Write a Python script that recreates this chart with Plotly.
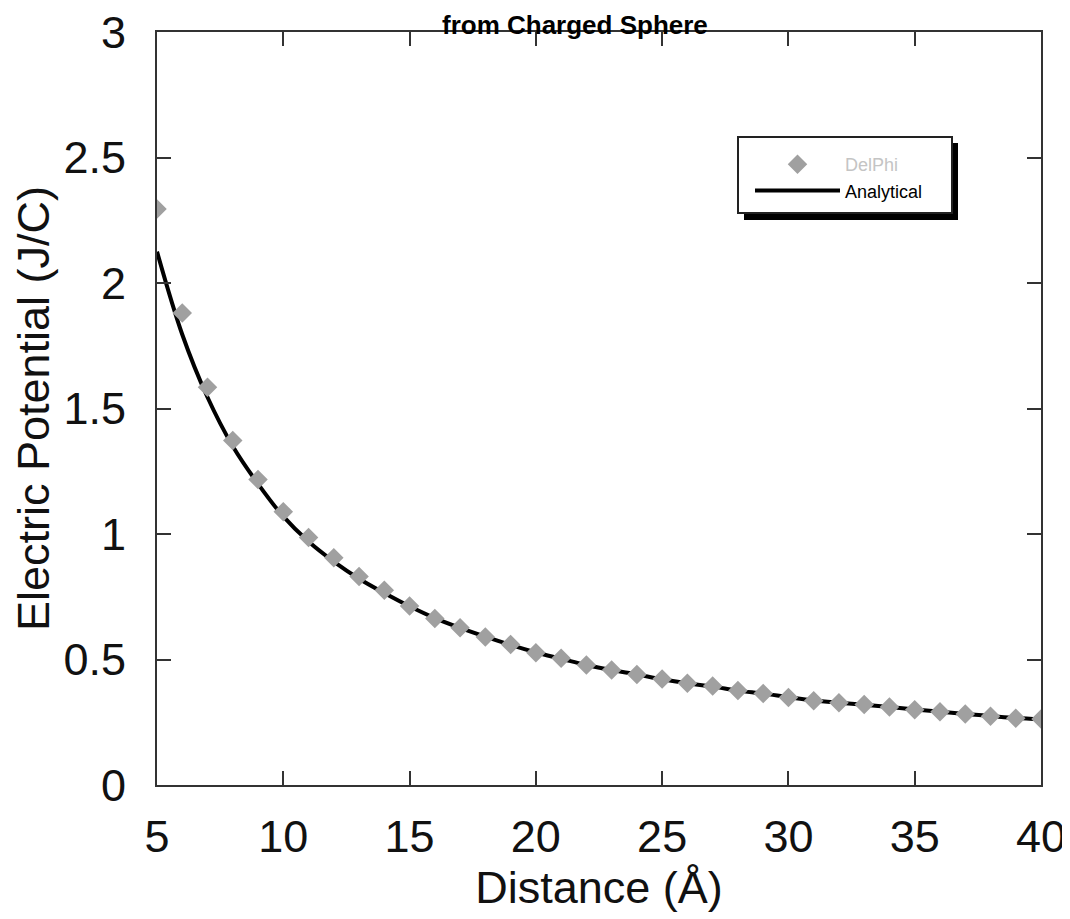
import plotly.graph_objects as go

distance = list(range(5, 41))
delphi = [2.295, 1.880, 1.585, 1.373, 1.217, 1.089, 0.986, 0.905, 0.831, 0.776,
          0.713, 0.663, 0.626, 0.590, 0.560, 0.527, 0.505, 0.478, 0.458, 0.440,
          0.422, 0.405, 0.394, 0.376, 0.365, 0.349, 0.336, 0.328, 0.321, 0.311,
          0.300, 0.292, 0.283, 0.274, 0.266, 0.263]
analytical = [2.125, 1.795, 1.545, 1.350, 1.200, 1.070, 0.970, 0.890, 0.822, 0.765,
              0.712, 0.665, 0.626, 0.591, 0.558, 0.528, 0.503, 0.478, 0.458, 0.440,
              0.421, 0.405, 0.392, 0.376, 0.364, 0.350, 0.337, 0.328, 0.320, 0.311,
              0.301, 0.292, 0.283, 0.275, 0.267, 0.262]
x_ticks = [5, 10, 15, 20, 25, 30, 35, 40]
y_ticks = [0, 0.5, 1, 1.5, 2, 2.5, 3]
y_tick_labels = ["0", "0.5", "1", "1.5", "2", "2.5", "3"]

FONT = "Arial, Liberation Sans, sans-serif"
OFF = 8  # page body margin
W, H = 1070 - OFF, 919 - OFF
L, T = 157 - OFF, 32 - OFF
R, B = W - (1041 - OFF), H - (785 - OFF)
PW, PH = W - L - R, H - T - B


def px_x(p):
    """screen pixel x -> paper fraction"""
    return (p - OFF - L) / PW


def px_y(p):
    """screen pixel y -> paper fraction"""
    return (H - B - (p - OFF)) / PH


fig = go.Figure()
fig.add_trace(go.Scatter(
    x=distance, y=analytical, mode="lines", name="Analytical",
    line=dict(color="black", width=4, shape="spline"), legendrank=2,
))
fig.add_trace(go.Scatter(
    x=distance, y=delphi, mode="markers",
    name="<span style='color:#c4c4c4'>DelPhi</span>",
    marker=dict(symbol="diamond", size=15, color="#a0a0a0"), legendrank=1,
))

axis_common = dict(
    showgrid=False, zeroline=False, showline=True, linecolor="#333333", linewidth=2,
    mirror="ticks", ticks="inside", ticklen=14, tickwidth=2, tickcolor="#333333",
    tickfont=dict(family=FONT, size=45, color="#111111"), automargin=False,
    ticklabeloverflow="allow",
)
fig.update_xaxes(
    range=[5, 40], tickvals=x_ticks, ticktext=[str(v) for v in x_ticks],
    title=dict(text="Distance (Å)", font=dict(family=FONT, size=45, color="#111111"), standoff=0),
    ticklabelstandoff=11, **axis_common,
)
fig.update_yaxes(
    range=[0, 3], tickvals=y_ticks, ticktext=y_tick_labels,
    title=dict(text="Electric Potential (J/C)", font=dict(family=FONT, size=45, color="#111111"), standoff=10),
    ticklabelstandoff=20, **axis_common,
)

# legend frame with drop shadow
fig.add_shape(type="rect", xref="paper", yref="paper",
              x0=px_x(744), x1=px_x(958), y0=px_y(220), y1=px_y(143),
              fillcolor="black", line=dict(width=0), layer="above")
fig.add_shape(type="rect", xref="paper", yref="paper",
              x0=px_x(738), x1=px_x(952), y0=px_y(213), y1=px_y(137),
              fillcolor="white", line=dict(width=2, color="#222222"), layer="above")

fig.add_annotation(
    text="<b>from Charged Sphere</b>", xref="paper", yref="paper",
    x=px_x(575), y=px_y(OFF), xanchor="center", yanchor="top", showarrow=False,
    font=dict(family=FONT, size=26, color="black"),
)

fig.update_layout(
    width=W, height=H, autosize=False,
    margin=dict(l=L, r=R, t=T, b=B, pad=0),
    paper_bgcolor="white", plot_bgcolor="white",
    showlegend=True,
    legend=dict(
        x=px_x(750), y=px_y(146), xanchor="left", yanchor="top",
        bgcolor="rgba(0,0,0,0)", borderwidth=0,
        font=dict(family=FONT, size=18, color="black"),
        itemwidth=85, tracegroupgap=0,
    ),
)

fig.write_html("out.html")
